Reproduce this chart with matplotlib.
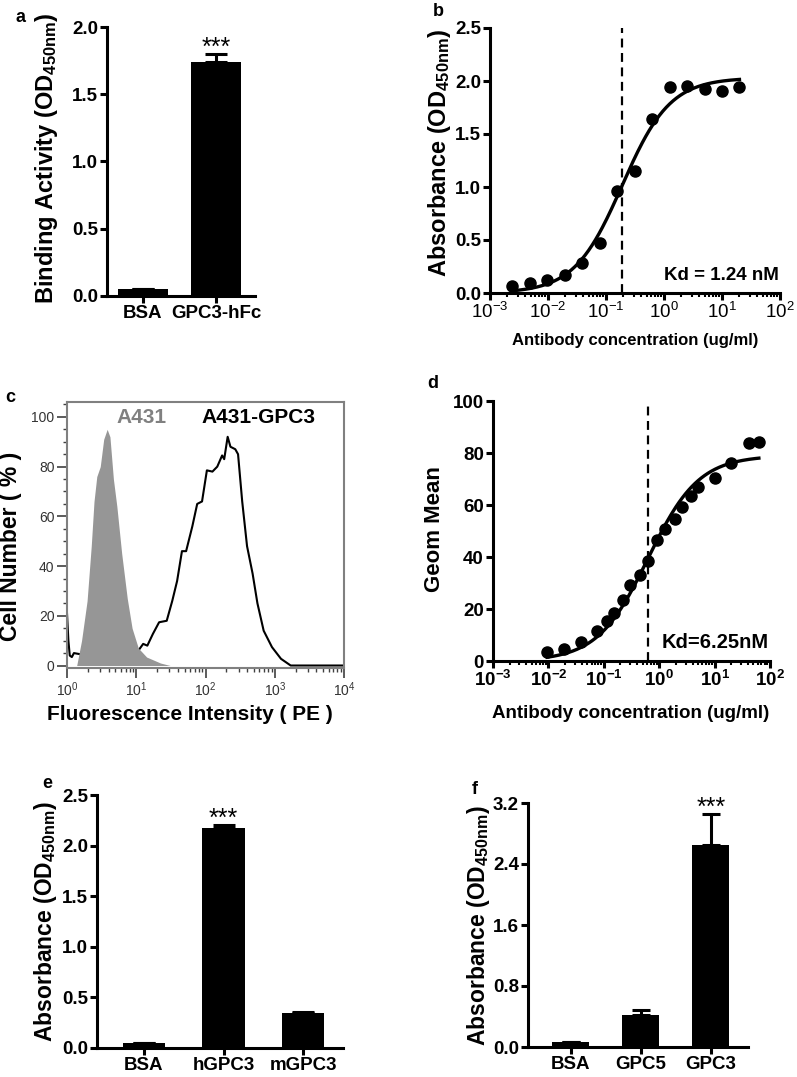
import numpy as np
import matplotlib.pyplot as plt
from matplotlib.ticker import LogLocator, NullFormatter, MultipleLocator

plt.rcParams['font.family'] = ['Liberation Sans', 'DejaVu Sans']
plt.rcParams['mathtext.fontset'] = 'custom'
plt.rcParams['mathtext.rm'] = 'Liberation Sans'
plt.rcParams['mathtext.it'] = 'Liberation Sans:italic'
plt.rcParams['mathtext.bf'] = 'Liberation Sans:bold'

W, H = 797, 1077

# ---- panel a: binding ELISA
a_cats = ['BSA', 'GPC3-hFc']
a_vals = [0.05, 1.74]
a_errs = [0.0, 0.06]

# ---- panel b: ELISA titration
b_conc = [0.0024, 0.0049, 0.0098, 0.0195, 0.039, 0.078, 0.156, 0.3125,
          0.625, 1.25, 2.5, 5, 10, 20]
b_abs = [0.07, 0.09, 0.12, 0.17, 0.28, 0.47, 0.96, 1.15, 1.64, 1.94,
         1.95, 1.92, 1.91, 1.94]
b_top, b_ec50, b_hill = 2.03, 0.19, 1.05
b_kd_x = 0.186

# ---- panel c: flow cytometry histograms (log10 of PE intensity, % of max)
c_ctrl_logx = [0.14, 0.21, 0.29, 0.35, 0.39, 0.43, 0.48, 0.53, 0.58, 0.62,
               0.67, 0.72, 0.79, 0.87, 0.94, 1.03, 1.15, 1.35, 1.49]
c_ctrl_y = [0, 10, 26, 48, 66, 76, 80, 91, 95, 92, 75, 64, 45, 27, 15, 7,
            3.4, 1, 0]
c_gpc3_logx = [0.0, 0.02, 0.04, 0.07, 0.10, 0.3, 0.6, 0.9, 1.03, 1.10, 1.16,
               1.24, 1.33, 1.44, 1.52, 1.59, 1.66, 1.72, 1.81, 1.88, 1.95,
               2.02, 2.10, 2.17, 2.24, 2.27, 2.32, 2.36, 2.43, 2.47, 2.53,
               2.60, 2.68, 2.75, 2.84, 2.96, 3.09, 3.23, 4.0]
c_gpc3_y = [21, 10, 4, 3.4, 5, 4, 4, 5, 6, 8.7, 8, 12.7, 17.4, 18, 26, 34,
            46, 46, 56, 65, 66, 78.5, 78, 80, 84.5, 83, 92, 88, 87, 85, 66,
            48, 37, 25, 14, 7.4, 2.7, 0, 0]

# ---- panel d: flow titration
d_conc = [0.0095, 0.019, 0.038, 0.076, 0.115, 0.15, 0.22, 0.30, 0.45, 0.63,
          0.93, 1.25, 1.9, 2.6, 3.8, 5.0, 10, 20, 42, 63]
d_gm = [3.5, 4.7, 7.3, 11.5, 15.3, 18.5, 23.4, 29.1, 33, 38.4, 46.5, 50.8,
        54.8, 59.3, 63.5, 67, 70.2, 76, 83.7, 84.3]
d_top, d_ec50, d_hill = 79.0, 0.63, 0.95
d_kd_x = 0.63

# ---- panel e / f: specificity
e_cats = ['BSA', 'hGPC3', 'mGPC3']
e_vals = [0.05, 2.17, 0.345]
e_errs = [0.0, 0.03, 0.01]
f_cats = ['BSA', 'GPC5', 'GPC3']
f_vals = [0.06, 0.42, 2.65]
f_errs = [0.0, 0.06, 0.40]

log_exps = [-3, -2, -1, 0, 1, 2]
flow_exps = [0, 1, 2, 3, 4]

fig = plt.figure(figsize=(W / 100, H / 100), dpi=100)


def add_ax(l, t, r, b):
    return fig.add_axes([l / W, 1 - b / H, (r - l) / W, (b - t) / H])


def ftext(x, y, s, **kw):
    fig.text(x / W, 1 - y / H, s, **kw)


def prism_style(ax):
    for s in ['top', 'right']:
        ax.spines[s].set_visible(False)
    for s in ['left', 'bottom']:
        ax.spines[s].set_linewidth(2.2)
    ax.tick_params(which='major', direction='out', length=5, width=2.2,
                   labelsize=13.5, pad=1.5)
    ax.tick_params(which='minor', direction='out', length=3, width=1.5)
    for lab in ax.get_yticklabels():
        lab.set_fontweight('bold')


def bar_panel(ax, cats, vals, errs, ymax, ystep, xlim, width, star_i, cap):
    x = np.arange(len(cats))
    ax.bar(x, vals, width, color='black', zorder=2)
    ax.errorbar(x, vals, yerr=[np.zeros(len(x)), errs], fmt='none',
                ecolor='black', elinewidth=2.2, capsize=cap, capthick=2.2,
                zorder=3)
    ax.set_xlim(*xlim)
    ax.set_ylim(0, ymax)
    ax.yaxis.set_major_locator(MultipleLocator(ystep))
    ax.yaxis.set_major_formatter(lambda v, p: '%.1f' % v)
    ax.set_xticks(x)
    ax.set_xticklabels(cats, fontweight='bold', fontsize=14.5)
    prism_style(ax)
    ax.annotate('***', xy=(x[star_i], vals[star_i] + errs[star_i]),
                xytext=(0, -4), textcoords='offset points', ha='center',
                va='bottom', fontsize=18, annotation_clip=False)


def fit_panel(ax, conc, vals, top, ec50, hill, kd_x, ymax, ystep, kd_text,
              kd_size, bold_x):
    xs = np.logspace(np.log10(conc[0]), np.log10(conc[-1]), 200)
    ax.plot(xs, top / (1 + (ec50 / xs) ** hill), color='black', lw=2.4,
            zorder=3)
    ax.plot(conc, vals, 'o', color='black', ms=8, zorder=4, clip_on=False)
    ax.plot([kd_x, kd_x], [0, ymax], color='black', lw=1.6,
            dashes=(4, 2.5), zorder=2)
    ax.set_xscale('log')
    ax.set_xlim(1e-3, 1e2)
    ax.set_ylim(0, ymax)
    ax.yaxis.set_major_locator(MultipleLocator(ystep))
    ax.xaxis.set_minor_locator(LogLocator(base=10, subs=np.arange(2, 10),
                                          numticks=20))
    ax.xaxis.set_minor_formatter(NullFormatter())
    ax.set_xticks([10.0 ** e for e in log_exps])
    if bold_x:
        ax.set_xticklabels([r'$\mathbf{10^{%d}}$' % e for e in log_exps])
    else:
        ax.set_xticklabels([r'$\mathregular{10^{%d}}$' % e for e in log_exps])
    prism_style(ax)
    ax.text(0.995, 0.035, kd_text, transform=ax.transAxes, ha='right',
            va='bottom', fontsize=kd_size, fontweight='bold')


# ---- a
ax_a = add_ax(107, 27, 255, 296)
bar_panel(ax_a, a_cats, a_vals, a_errs, 2.0, 0.5, (-0.49, 1.53), 0.68, 1, 8)
ftext(47, 158, r'Binding Activity (OD$_{\mathbf{450nm}}$)', rotation=90,
      ha='center', va='center', fontsize=17, fontweight='bold')
ftext(20, 17, 'a', ha='center', va='center', fontsize=13, fontweight='bold')

# ---- b
ax_b = add_ax(490, 28, 780, 293)
fit_panel(ax_b, b_conc, b_abs, b_top, b_ec50, b_hill, b_kd_x, 2.5, 0.5,
          'Kd = 1.24 nM', 13.5, False)
ax_b.yaxis.set_major_formatter(lambda v, p: '%.1f' % v)
for lab in ax_b.get_yticklabels():
    lab.set_fontweight('bold')
ftext(439, 153, r'Absorbance (OD$_{\mathbf{450nm}}$)', rotation=90,
      ha='center', va='center', fontsize=17, fontweight='bold')
ftext(635, 340, 'Antibody concentration (ug/ml)', ha='center', va='center',
      fontsize=12, fontweight='bold')
ftext(438, 12, 'b', ha='center', va='center', fontsize=13, fontweight='bold')

# ---- c
ax_c = add_ax(67, 402, 344, 668)
ax_c.plot(10.0 ** np.array(c_gpc3_logx), c_gpc3_y, color='black', lw=1.5,
          zorder=2)
ax_c.fill_between(10.0 ** np.array(c_ctrl_logx), c_ctrl_y, color='#969696',
                  lw=0, zorder=3)
ax_c.set_xscale('log')
ax_c.set_xlim(1, 1e4)
ax_c.set_ylim(-1, 106)
ax_c.set_xticks([10.0 ** e for e in flow_exps])
ax_c.set_xticklabels([r'$\mathregular{10^{%d}}$' % e for e in flow_exps])
ax_c.xaxis.set_minor_locator(LogLocator(base=10, subs=np.arange(2, 10),
                                        numticks=20))
ax_c.xaxis.set_minor_formatter(NullFormatter())
ax_c.yaxis.set_major_locator(MultipleLocator(20))
ax_c.yaxis.set_minor_locator(MultipleLocator(5))
for s in ax_c.spines.values():
    s.set_color('#808080')
    s.set_linewidth(1.5)
ax_c.tick_params(which='major', direction='out', length=7, width=1.2,
                 color='#404040', labelsize=10, labelcolor='#333333', pad=2)
ax_c.tick_params(which='minor', direction='out', length=3, width=1,
                 color='#404040')
ax_c.text(0.27, 0.94, 'A431', transform=ax_c.transAxes, ha='center',
          va='center', fontsize=15, fontweight='bold', color='#808080')
ax_c.text(0.69, 0.94, 'A431-GPC3', transform=ax_c.transAxes, ha='center',
          va='center', fontsize=15, fontweight='bold', color='black')
ftext(11, 546, 'Cell Number ( % )', rotation=90, ha='center', va='center',
      fontsize=16.5, fontweight='bold')
ftext(190, 714, 'Fluorescence Intensity ( PE )', ha='center', va='center',
      fontsize=15, fontweight='bold')
ftext(10, 397, 'c', ha='center', va='center', fontsize=13, fontweight='bold')

# ---- d
ax_d = add_ax(493, 401, 770, 661)
fit_panel(ax_d, d_conc, d_gm, d_top, d_ec50, d_hill, d_kd_x, 100, 20,
          'Kd=6.25nM', 14.5, True)
ftext(435, 529, 'Geom Mean', rotation=90, ha='center', va='center',
      fontsize=16, fontweight='bold')
ftext(631, 714, 'Antibody concentration (ug/ml)', ha='center', va='center',
      fontsize=13.5, fontweight='bold')
ftext(433, 383, 'd', ha='center', va='center', fontsize=13, fontweight='bold')

# ---- e
ax_e = add_ax(97, 795, 343, 1048)
bar_panel(ax_e, e_cats, e_vals, e_errs, 2.5, 0.5, (-0.59, 2.5), 0.53, 1, 8)
ftext(46, 922, r'Absorbance (OD$_{\mathbf{450nm}}$)', rotation=90,
      ha='center', va='center', fontsize=16.5, fontweight='bold')
ftext(47, 783, 'e', ha='center', va='center', fontsize=13, fontweight='bold')

# ---- f
ax_f = add_ax(528, 803, 748, 1047)
bar_panel(ax_f, f_cats, f_vals, f_errs, 3.2, 0.8, (-0.61, 2.53), 0.53, 2, 6.5)
ftext(479, 926, r'Absorbance (OD$_{\mathbf{450nm}}$)', rotation=90,
      ha='center', va='center', fontsize=16.5, fontweight='bold')
ftext(475, 790, 'f', ha='center', va='center', fontsize=13, fontweight='bold')

fig.savefig('out.png', dpi=100, facecolor='white')
